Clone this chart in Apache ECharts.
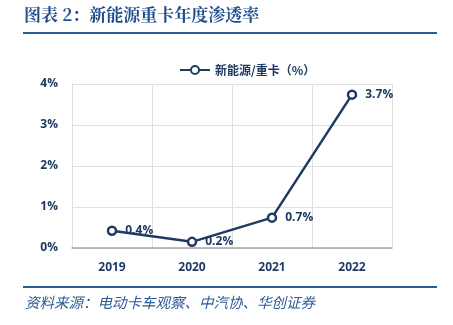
<!DOCTYPE html>
<html><head><meta charset="utf-8">
<script src="https://cdn.jsdelivr.net/npm/echarts@6/dist/echarts.min.js"></script>
<style>
html,body{margin:0;padding:0;background:#fff;}
#c{width:453px;height:325px;}
</style></head>
<body><div id="c"></div>
<script>
const categories = ['2019','2020','2021','2022'];
const values = [0.42, 0.15, 0.74, 3.74];
const valueLabels = ['0.4%','0.2%','0.7%','3.7%'];
const seriesName = '新能源/重卡（%）';
const titleText = '图表 2：新能源重卡年度渗透率';
const sourceText = '资料来源：电动卡车观察、中汽协、华创证券';

const navy = '#1f3a63';
const chart = echarts.init(document.getElementById('c'), null, {renderer:'canvas'});
chart.setOption({
  animation:false,
  backgroundColor:'#fff',
  graphic:[
    {type:'text', left:24, top:6, style:{text:titleText, font:'bold 17px "Noto Serif CJK SC", "Noto Sans CJK SC", serif', fill:'#1f4e8c'}},
    {type:'rect', shape:{x:23, y:32, width:414, height:2}, style:{fill:'#2e5a94'}},
    {type:'rect', shape:{x:23, y:286, width:414, height:2}, style:{fill:'#2e5a94'}},
    {type:'text', left:25, top:295, style:{text:sourceText, font:'italic 14.5px "Noto Sans CJK SC", sans-serif', fill:'#2e5a94'}}
  ],
  legend:{
    top:59, left:174,
    data:[seriesName],
    itemWidth:30, itemHeight:10, itemGap:5,
    textStyle:{color:navy, fontWeight:'bold', fontSize:12, fontFamily:'"Noto Sans CJK SC", sans-serif'}
  },
  grid:{left:72, right:61, top:84, bottom:77, containLabel:false},
  xAxis:{
    type:'category', data:categories, boundaryGap:true,
    axisLine:{lineStyle:{color:'#a6a6a6', width:1.5}},
    axisTick:{show:false},
    axisLabel:{color:navy, fontWeight:'bold', fontSize:12, margin:14, fontFamily:'"Open Sans", sans-serif'},
    splitLine:{show:true, lineStyle:{color:'#e0e0e0', width:1}}
  },
  yAxis:{
    type:'value', min:0, max:4, interval:1,
    axisLine:{show:true, lineStyle:{color:'#e0e0e0'}},
    axisTick:{show:false},
    axisLabel:{formatter:'{value}%', color:navy, fontWeight:'bold', fontSize:12, margin:14, fontFamily:'"Open Sans", sans-serif'},
    splitLine:{lineStyle:{color:'#e0e0e0', width:1}}
  },
  series:[{
    name:seriesName, type:'line', data:values,
    symbol:'circle', symbolSize:8,
    lineStyle:{color:navy, width:2.5},
    itemStyle:{color:'#fff', borderColor:navy, borderWidth:2.5},
    label:{show:true, position:'right', distance:8, color:navy, fontWeight:'bold', fontSize:12, fontFamily:'"Open Sans", sans-serif',
      formatter:p=>valueLabels[p.dataIndex]}
  }]
});
</script></body></html>
